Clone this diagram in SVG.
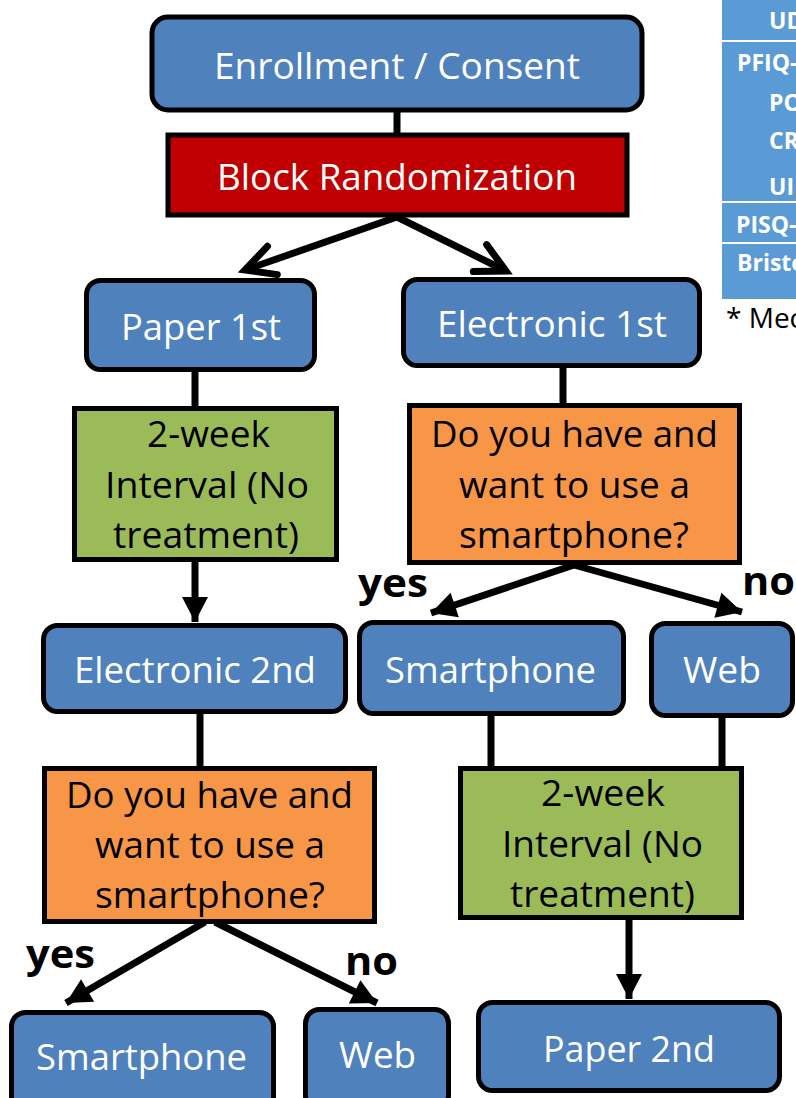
<svg xmlns="http://www.w3.org/2000/svg" width="796" height="1098" viewBox="0 0 796 1098">
  <style>
    .box { stroke: #000; stroke-width: 5; }
    .blue { fill: #4F81BD; }
    .red { fill: #C00000; }
    .green { fill: #9BBB59; }
    .orange { fill: #F79646; }
    .lbl { font-family: "Open Sans", "Liberation Sans", sans-serif; font-size: 36px; text-anchor: middle; }
    .w { fill: #FFFFFF; }
    .k { fill: #000000; }
    .yn { font-family: "Open Sans", "Liberation Sans", sans-serif; font-size: 40px; font-weight: bold; fill: #000; }
    .tbl { font-family: "Open Sans", "Liberation Sans", sans-serif; font-size: 23px; font-weight: bold; fill: #FFFFFF; }
    .conn { stroke: #000; stroke-width: 7; fill: none; }
  </style>
  <defs>
    <marker id="chevron" markerUnits="userSpaceOnUse" markerWidth="40" markerHeight="40" viewBox="0 0 40 40" refX="30" refY="20" orient="auto" overflow="visible">
      <path d="M 1,5 L 30,20 L 1,35" fill="none" stroke="#000" stroke-width="7" stroke-linecap="round"/>
    </marker>
    <marker id="tri" markerUnits="userSpaceOnUse" markerWidth="28" markerHeight="28" viewBox="0 0 28 28" refX="25" refY="13" orient="auto" overflow="visible">
      <path d="M 0,0 L 25,13 L 0,26 z" fill="#000"/>
    </marker>
  </defs>

  <!-- measures table strip at the right edge -->
  <g id="measures-table">
    <rect x="722" y="0" width="80" height="299" fill="#5B9BD5"/>
    <line x1="722" y1="41" x2="796" y2="41" stroke="#FFFFFF" stroke-width="2"/>
    <line x1="722" y1="202" x2="796" y2="202" stroke="#FFFFFF" stroke-width="2"/>
    <line x1="722" y1="243" x2="796" y2="243" stroke="#FFFFFF" stroke-width="2"/>
    <text class="tbl" x="769" y="29">UD</text>
    <text class="tbl" x="737" y="71">PFIQ-</text>
    <text class="tbl" x="769" y="111">PO</text>
    <text class="tbl" x="769" y="149">CR</text>
    <text class="tbl" x="769" y="195">UI</text>
    <text class="tbl" x="736" y="233">PISQ-</text>
    <text class="tbl" x="737" y="271">Bristo</text>
    <text x="726" y="328" font-family="Open Sans, Liberation Sans, sans-serif" font-size="28" fill="#000">* Mec</text>
  </g>

  <!-- connectors -->
  <g id="connectors">
    <line class="conn" x1="397" y1="110" x2="397" y2="136"/>
    <line class="conn" x1="397" y1="217" x2="245" y2="270" marker-end="url(#chevron)"/>
    <line class="conn" x1="397" y1="217" x2="506" y2="271" marker-end="url(#chevron)"/>
    <line class="conn" x1="195" y1="369" x2="195" y2="409"/>
    <line class="conn" x1="563" y1="365" x2="563" y2="406"/>
    <line class="conn" x1="195" y1="561" x2="195" y2="622" marker-end="url(#tri)"/>
    <line class="conn" x1="574" y1="565" x2="431" y2="613" marker-end="url(#tri)"/>
    <line class="conn" x1="574" y1="565" x2="742" y2="612" marker-end="url(#tri)"/>
    <line class="conn" x1="200" y1="711" x2="200" y2="769"/>
    <line class="conn" x1="491" y1="713" x2="491" y2="769"/>
    <line class="conn" x1="722" y1="715" x2="722" y2="769"/>
    <line class="conn" x1="205" y1="922" x2="66" y2="1003" marker-end="url(#tri)"/>
    <line class="conn" x1="215" y1="922" x2="377" y2="1003" marker-end="url(#tri)"/>
    <line class="conn" x1="629" y1="918" x2="629" y2="999" marker-end="url(#tri)"/>
    <text class="yn" x="358" y="597" textLength="70" lengthAdjust="spacingAndGlyphs">yes</text>
    <text class="yn" x="742" y="595" textLength="53" lengthAdjust="spacingAndGlyphs">no</text>
    <text class="yn" x="26" y="968" textLength="69" lengthAdjust="spacingAndGlyphs">yes</text>
    <text class="yn" x="345" y="975" textLength="53" lengthAdjust="spacingAndGlyphs">no</text>
  </g>

  <g id="enrollment">
    <rect class="box blue" x="152" y="17" width="490" height="93" rx="16"/>
    <text class="lbl w" x="397" y="79" textLength="366" lengthAdjust="spacingAndGlyphs">Enrollment / Consent</text>
  </g>

  <g id="randomization">
    <rect class="box red" x="168" y="135" width="459" height="80"/>
    <text class="lbl w" x="397" y="190" textLength="360" lengthAdjust="spacingAndGlyphs">Block Randomization</text>
  </g>

  <g id="paper-first">
    <rect class="box blue" x="86.5" y="280.5" width="228" height="89" rx="14"/>
    <text class="lbl w" x="201" y="340" textLength="160" lengthAdjust="spacingAndGlyphs">Paper 1st</text>
  </g>

  <g id="electronic-first">
    <rect class="box blue" x="403.5" y="279.5" width="296" height="86" rx="14"/>
    <text class="lbl w" x="552" y="337" textLength="230" lengthAdjust="spacingAndGlyphs">Electronic 1st</text>
  </g>

  <g id="interval-left">
    <rect class="box green" x="74.5" y="408.5" width="262" height="151"/>
    <text class="lbl k" x="208.5" y="447" textLength="123" lengthAdjust="spacingAndGlyphs">2-week</text>
    <text class="lbl k" x="207" y="498" textLength="204" lengthAdjust="spacingAndGlyphs">Interval (No</text>
    <text class="lbl k" x="206" y="548" textLength="186" lengthAdjust="spacingAndGlyphs">treatment)</text>
  </g>

  <g id="question-top">
    <rect class="box orange" x="409.5" y="405.5" width="330" height="157"/>
    <text class="lbl k" x="574.5" y="447" textLength="287" lengthAdjust="spacingAndGlyphs">Do you have and</text>
    <text class="lbl k" x="574.5" y="498" textLength="231" lengthAdjust="spacingAndGlyphs">want to use a</text>
    <text class="lbl k" x="574" y="548" textLength="230" lengthAdjust="spacingAndGlyphs">smartphone?</text>
  </g>

  <g id="electronic-second">
    <rect class="box blue" x="43.5" y="625.5" width="302" height="86" rx="14"/>
    <text class="lbl w" x="195" y="683" textLength="242" lengthAdjust="spacingAndGlyphs">Electronic 2nd</text>
  </g>

  <g id="smartphone-top">
    <rect class="box blue" x="359.5" y="622.5" width="264" height="91" rx="14"/>
    <text class="lbl w" x="490.5" y="683" textLength="211" lengthAdjust="spacingAndGlyphs">Smartphone</text>
  </g>

  <g id="web-top">
    <rect class="box blue" x="651.5" y="623.5" width="141" height="92" rx="14"/>
    <text class="lbl w" x="722" y="683" textLength="78" lengthAdjust="spacingAndGlyphs">Web</text>
  </g>

  <g id="question-bottom">
    <rect class="box orange" x="44.5" y="768.5" width="330" height="153"/>
    <text class="lbl k" x="209.5" y="808" textLength="287" lengthAdjust="spacingAndGlyphs">Do you have and</text>
    <text class="lbl k" x="210" y="858" textLength="230" lengthAdjust="spacingAndGlyphs">want to use a</text>
    <text class="lbl k" x="210" y="908" textLength="230" lengthAdjust="spacingAndGlyphs">smartphone?</text>
  </g>

  <g id="interval-right">
    <rect class="box green" x="460.5" y="768.5" width="281" height="149"/>
    <text class="lbl k" x="603" y="806" textLength="124" lengthAdjust="spacingAndGlyphs">2-week</text>
    <text class="lbl k" x="602.5" y="857" textLength="201" lengthAdjust="spacingAndGlyphs">Interval (No</text>
    <text class="lbl k" x="602.5" y="907" textLength="185" lengthAdjust="spacingAndGlyphs">treatment)</text>
  </g>

  <g id="smartphone-bottom">
    <rect class="box blue" x="11.5" y="1012.5" width="262" height="100" rx="14"/>
    <text class="lbl w" x="141.5" y="1070" textLength="211" lengthAdjust="spacingAndGlyphs">Smartphone</text>
  </g>

  <g id="web-bottom">
    <rect class="box blue" x="305.5" y="1009.5" width="143" height="100" rx="14"/>
    <text class="lbl w" x="377.5" y="1068" textLength="77" lengthAdjust="spacingAndGlyphs">Web</text>
  </g>

  <g id="paper-second">
    <rect class="box blue" x="478.5" y="1002.5" width="301" height="88" rx="14"/>
    <text class="lbl w" x="629" y="1062" textLength="172" lengthAdjust="spacingAndGlyphs">Paper 2nd</text>
  </g>
</svg>
